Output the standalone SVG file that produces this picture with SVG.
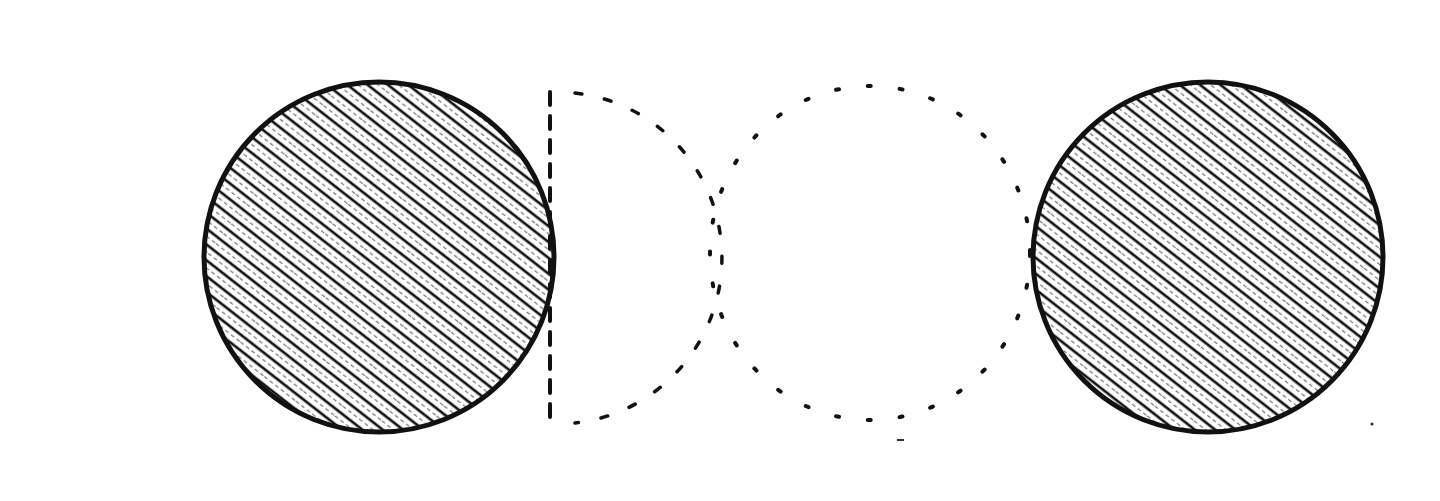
<svg xmlns="http://www.w3.org/2000/svg" width="1440" height="501" viewBox="0 0 1440 501">
<style>
.solid{stroke:#111;stroke-width:5;fill:url(#hatch)}
.dot{fill:none;stroke:#111;stroke-width:4;stroke-linecap:round;stroke-dasharray:3 29}
.dash{fill:none;stroke:#111;stroke-width:3.5;stroke-linecap:round;stroke-dasharray:7 23}
.vdash{fill:none;stroke:#111;stroke-width:4;stroke-linecap:round;stroke-dasharray:13 11}
</style>
<defs>
<pattern id="hatch" patternUnits="userSpaceOnUse" width="40" height="12.5" patternTransform="rotate(38)">
<rect width="40" height="12.5" fill="#fff"/>
<line x1="0" y1="3" x2="40" y2="3" stroke="#111" stroke-width="2.8"/>
<line x1="0" y1="9" x2="40" y2="9" stroke="#777" stroke-width="1.4" stroke-dasharray="4 3"/>
</pattern>
</defs>
<rect width="1440" height="501" fill="#fff"/>
<g id="left-disc">
<circle class="solid" cx="379" cy="257" r="175"/>
</g>
<g id="half-disc">
<line class="vdash" x1="550" y1="92" x2="550" y2="423"/>
<path class="dash" d="M575 93 A165 166 0 0 1 575 423"/>
</g>
<g id="dotted-circle">
<ellipse class="dot" cx="870" cy="253" rx="160" ry="167"/>
</g>
<g id="right-disc">
<circle class="solid" cx="1208" cy="257" r="175"/>
</g>
<g id="marks">
<line x1="897" y1="440" x2="904" y2="440" stroke="#333" stroke-width="2"/>
<circle cx="1372" cy="424" r="1.6" fill="#333"/>
</g>
</svg>
